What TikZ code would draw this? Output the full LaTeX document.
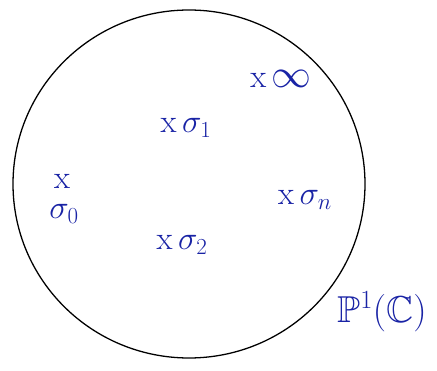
\RequirePackage{fix-cm}
\documentclass[tikz,border=0pt]{standalone}
\usepackage{amssymb}
\definecolor{ink}{RGB}{25,35,165}
\begin{document}
\begin{tikzpicture}[x=0.03cm, y=-0.03cm,
    pt/.style={text=ink, font=\fontsize{28}{30}\selectfont, inner sep=0pt}]
    \useasboundingbox (0,0) rectangle (437,371);
    % Sphere
    \draw[line width=1.1pt] (189,184) ellipse (176 and 174);

    % Punkte
    \node[pt] (inf) at (281,79) {x\,{\fontsize{34}{36}\selectfont$\infty$}};
    \node[pt] (s1) at (186,128) {x\,$\sigma_1$};
    \node[pt] (x0) at (62,181) {x};
    \node[pt] (s0) at (64,214) {$\sigma_0$};
    \node[pt] (s2) at (182,245) {x\,$\sigma_2$};
    \node[pt] (sn) at (305,200) {x\,$\sigma_n$};

    % Bezeichnung
    \node[pt, font=\fontsize{32}{34}\selectfont] (P) at (382,312)
        {$\mathbb{P}^1\bigl(\mathbb{C}\bigr)$};
\end{tikzpicture}
\end{document}
